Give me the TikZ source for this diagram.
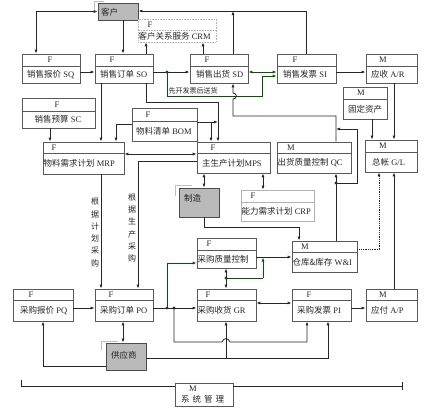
\documentclass[tikz,border=0pt]{standalone}
\usepackage{fontspec}
\setmainfont{Liberation Serif}
\newfontfamily\cjk{Noto Sans CJK SC}
\usetikzlibrary{arrows.meta,fit}
\newcommand{\mkbox}[6]{%
  \path (#2,#3) coordinate (#1-a) (#4,#5) coordinate (#1-b);
  \node[#6, fit=(#1-a)(#1-b), inner sep=0pt] (#1) {};}
\newcommand{\divline}[3][divst]{\draw[#1] (#2.west |- 0,#3) -- (#2.east |- 0,#3);}
\begin{document}
\begin{tikzpicture}[x=1pt,y=-1pt,
 boxst/.style={draw=black!65, line width=0.7pt, fill=white},
 lightbox/.style={draw=black!30, line width=0.6pt, densely dotted, fill=white},
 lightbox2/.style={draw=black!30, line width=0.6pt, fill=white},
 graybox/.style={draw=black!70, line width=0.8pt, fill=black!27},
 divst/.style={draw=black!65, line width=0.6pt},
 ldivst/.style={draw=black!30, line width=0.6pt, densely dotted},
 shadow/.style={draw=black!25, line width=0.6pt},
 lbl/.style={font=\fontsize{8.5}{10}\selectfont, inner sep=0pt, text=black!85},
 txt/.style={font=\fontsize{8.5}{10}\selectfont, inner sep=0pt, anchor=west, text=black!85},
 vtxt/.style={font=\fontsize{8}{12.3}\selectfont\cjk, inner sep=0pt, align=center, text=black!85},
 conn/.style={draw=black!85, line width=0.8pt},
 arr/.style={conn, -{Latex[length=4pt,width=3pt]}},
 dbl/.style={conn, {Latex[length=4pt,width=3pt]}-{Latex[length=4pt,width=3pt]}},
 gline/.style={draw=green!35!black, line width=0.8pt},
 garr/.style={gline, -{Latex[length=4pt,width=3pt]}},
 gdbl/.style={gline, {Latex[length=4pt,width=3pt]}-{Latex[length=4pt,width=3pt]}},
]
\useasboundingbox[fill=white] (0,0) rectangle (448,408);

% ---------- boxes ----------
\draw[shadow] (94.5,13) -- (94.5,0.8) -- (104,0.8);
\mkbox{kehu}{98}{3}{138}{20}{graybox}
\node[txt] (tkehu) at (101,12) {\cjk 客户};

\mkbox{crm}{138}{19}{216}{42}{lightbox}
\divline[ldivst]{crm}{30}
\node[lbl] (lcrm) at (150,24.5) {F};
\node[txt] (tcrm) at (138.5,36.5) {{\cjk 客户关系服务} CRM};

\mkbox{sq}{22}{54}{80}{83}{boxst}
\divline{sq}{66}
\node[lbl] (lsq) at (50,60) {F};
\node[txt] (tsq) at (27,74.5) {{\cjk 销售报价} SQ};

\mkbox{so}{95}{54}{153}{83}{boxst}
\divline{so}{66}
\node[lbl] (lso) at (112,60) {F};
\node[txt] (tso) at (100,74.5) {{\cjk 销售订单} SO};

\mkbox{sd}{190}{54}{248}{83}{boxst}
\divline{sd}{66}
\node[lbl] (lsd) at (207,60) {F};
\node[txt] (tsd) at (196,74.5) {{\cjk 销售出货} SD};

\mkbox{si}{277}{54}{336}{83}{boxst}
\divline{si}{66}
\node[lbl] (lsi) at (295,60) {F};
\node[txt] (tsi) at (283,74.5) {{\cjk 销售发票} SI};

\mkbox{ar}{366}{54}{417}{83}{boxst}
\divline{ar}{66}
\node[lbl] (lar) at (383,60) {M};
\node[txt] (tar) at (371,74.5) {{\cjk 应收} A/R};

\mkbox{gdzc}{343}{87}{387}{119}{boxst}
\divline{gdzc}{99}
\node[lbl] (lgdzc) at (361,93) {M};
\node[lbl] (tgdzc) at (365,109) {\cjk 固定资产};

\mkbox{sc}{22}{98}{95}{128}{boxst}
\divline{sc}{111}
\node[lbl] (lsc) at (57,104.5) {F};
\node[lbl] (tsc) at (58,119.5) {{\cjk 销售预算} SC};

\mkbox{bom}{132}{108}{197}{141}{boxst}
\divline{bom}{121}
\node[lbl] (lbom) at (148,114.5) {F};
\node[txt] (tbom) at (136,131) {{\cjk 物料清单} BOM};

\mkbox{mrp}{43}{142}{124}{174}{boxst}
\divline{mrp}{153}
\node[lbl] (lmrp) at (54,147.5) {F};
\node[txt] (tmrp) at (43.5,163.5) {{\cjk 物料需求计划} MRP};

\mkbox{mps}{197}{142}{270}{173}{boxst}
\divline{mps}{153}
\node[lbl] (lmps) at (213,147.5) {F};
\node[txt] (tmps) at (202,163) {{\cjk 主生产计划}MPS};

\mkbox{qc}{277}{142}{351}{173}{boxst}
\divline{qc}{153}
\node[lbl] (lqc) at (291,147.5) {M};
\node[txt] (tqc) at (277.5,163) {{\cjk 出货质量控制} QC};

\mkbox{gl}{365}{140}{417}{172}{boxst}
\divline{gl}{152}
\node[lbl] (lgl) at (383,146) {M};
\node[txt] (tgl) at (372,162) {{\cjk 总帐} G/L};

\draw[shadow] (175,196) -- (175,185) -- (192,185);
\mkbox{zhizao}{179}{188}{219}{217}{graybox}
\node[txt] (tzhizao) at (184,198) {\cjk 制造};

\mkbox{crp}{241}{190}{314}{221}{lightbox2}
\divline[draw=black!30, line width=0.6pt]{crp}{202}
\node[lbl] (lcrp) at (253,196) {F};
\node[txt] (tcrp) at (241.5,211.5) {{\cjk 能力需求计划} CRP};

\mkbox{cgzl}{197}{238}{256}{268}{boxst}
\divline{cgzl}{250}
\node[lbl] (lcgzl) at (209,244) {F};
\node[txt] (tcgzl) at (197.5,259) {\cjk 采购质量控制};

\mkbox{wi}{292}{241}{357}{272}{boxst}
\divline{wi}{252}
\node[lbl] (lwi) at (305,246.5) {M};
\node[txt] (twi) at (292.5,262) {{\cjk 仓库\&库存} W\&I};

\mkbox{pq}{13}{289}{73}{321}{boxst}
\divline{pq}{300}
\node[lbl] (lpq) at (31,294.5) {F};
\node[txt] (tpq) at (20,310.5) {{\cjk 采购报价} PQ};

\mkbox{po}{95}{289}{153}{321}{boxst}
\divline{po}{300}
\node[lbl] (lpo) at (111,294.5) {F};
\node[txt] (tpo) at (100,310.5) {{\cjk 采购订单} PO};

\mkbox{gr}{197}{289}{256}{321}{boxst}
\divline{gr}{300}
\node[lbl] (lgr) at (208,294.5) {F};
\node[txt] (tgr) at (197.5,310.5) {{\cjk 采购收货} GR};

\mkbox{pi}{292}{289}{351}{321}{boxst}
\divline{pi}{300}
\node[lbl] (lpi) at (309,294.5) {F};
\node[txt] (tpi) at (297,310.5) {{\cjk 采购发票} PI};

\mkbox{ap}{366}{289}{417}{321}{boxst}
\divline{ap}{300}
\node[lbl] (lap) at (383,294.5) {M};
\node[txt] (tap) at (371,310.5) {{\cjk 应付} A/P};

\draw[shadow] (101,350) -- (101,341) -- (118,341);
\mkbox{gys}{106}{343}{146}{370}{graybox}
\node[txt] (tgys) at (111,355) {\cjk 供应商};

\mkbox{xtgl}{175}{383}{233}{406}{boxst}
\node[lbl] (lxtgl) at (193,389) {M};
\node[txt] (txtgl) at (181,399) {\cjk 系\hspace{3pt}统\hspace{3pt}管\hspace{3pt}理};

% ---------- connectors ----------
\draw[dbl] (kehu.west) -- (kehu.west -| 36,0) -- (sq.north -| 36,0);
\draw[arr] (kehu.south -| 123,0) -- (so.north -| 123,0);
\draw[arr] (so.north -| 146,0) -- (crm.south -| 146,0);
\draw[arr] (si.north -| 306,0) -- (306,11) -- (kehu.east |- 0,11);
\draw[arr] (sd.north -| 233,0) -- (233,11);
\draw[arr] (sd.north -| 203,0) -- (crm.south -| 203,0);

\draw[arr] (sq.east |- 0,72) -- (so.west |- 0,72);
\draw[arr] (so.east |- 0,72) -- (sd.west |- 0,72);
\draw[garr] (167,72) -- (167,96) -- (262,96) -- (262,76) -- (si.west |- 0,76);
\fill[green!35!black] (167,72) circle (1.6);
\node[font=\fontsize{7}{8}\selectfont\cjk, inner sep=0pt, anchor=south west, text=black!85] (txianka) at (168.5,94.5) {先开发票后送货};
\draw[gdbl] (sd.east |- 0,72) -- (si.west |- 0,72);
\draw[arr] (si.east |- 0,72) -- (ar.west |- 0,72);

\draw[arr] (qc.north -| 336,0) -- (336,116) -- (233,116) -- (233,99)
   .. controls (237.5,99) and (237.5,93) .. (233,93) -- (sd.south -| 233,0);
\draw[arr] (336,183) -- (357,183) -- (357,129) -- (336,129);
\fill[black!85] (336,183) circle (1.6);
\draw[arr] (wi.north -| 336,0) -- (qc.south -| 336,0);

\draw[arr] (so.south -| 146,0) -- (146,102) -- (218,102) -- (mps.north -| 218,0);
\draw[arr] (bom.east |- 0,122) -- (211,122) -- (mps.north -| 211,0);
\draw[arr] (211,122) -- (218,122);
\draw[arr] (bom.west |- 0,124) -- (116,124) -- (mrp.north -| 116,0);
\draw[arr] (so.south -| 101,0) -- (mrp.north -| 101,0);
\draw[arr] (sc.south -| 50,0) -- (mrp.north -| 50,0);
\draw[dbl] (mrp.east |- 0,154) -- (mps.west |- 0,154);

\draw[arr] (mps.west |- 0,161) -- (138,161) -- (po.north -| 138,0);
\node[vtxt] (tgjsc) at (132,228) {根\\据\\生\\产\\采\\购};
\draw[arr] (mrp.south -| 101,0) -- (po.north -| 101,0);
\node[vtxt] (tgjjh) at (95,232.5) {根\\据\\计\\划\\采\\购};

\draw[dbl] (mps.south -| 204,0) -- (zhizao.north -| 204,0);
\draw[dbl] (mps.south -| 263,0) -- (crp.north -| 263,0);
\draw[arr] (zhizao.south -| 204,0) -- (204,227) -- (299,227) -- (wi.north -| 299,0);
\draw[arr] (cgzl.east |- 0,257) -- (wi.west |- 0,257);

\draw[arr] (pq.east |- 0,308) -- (po.west |- 0,308);
\draw[arr] (po.east |- 0,308) -- (gr.west |- 0,308);
\draw[garr] (167,308) -- (167,263) -- (cgzl.west |- 0,263);
\fill[green!35!black] (167,308) circle (1.6);
\fill[black!85] (174,308) circle (1.6);
\draw[dbl] (gr.north -| 226,0) -- (cgzl.south -| 226,0);
\draw[gline] (226,278) -- (263,278);
\draw[garr] (263,278) -- (263,257.5);
\fill[green!35!black] (226,278) circle (1.6);

\draw[arr] (174,308) -- (174,342) -- (222,342) .. controls (223.5,337.5) and (228.5,337.5) .. (230,342)
   -- (307,342) -- (pi.south -| 307,0);
\draw[arr] (gys.east |- 0,358) -- (328,358) -- (pi.south -| 328,0);
\draw[arr] (226,358) -- (gr.south -| 226,0);
\draw[dbl] (gr.east |- 0,303) -- (pi.west |- 0,303);
\draw[arr] (pi.east |- 0,308) -- (ap.west |- 0,308);
\draw[dbl] (po.south -| 123,0) -- (gys.north -| 123,0);
\draw[arr] (gys.west |- 0,366) -- (43,366) -- (pq.south -| 43,0);

\draw[arr] (ap.north -| 394,0) -- (gl.south -| 394,0);
\draw[arr, densely dotted] (wi.east |- 0,249) -- (379,249) -- (gl.south -| 379,0);
\draw[arr] (ar.south -| 394,0) -- (gl.north -| 394,0);
\draw[arr] (gdzc.south -| 372,0) -- (gl.north -| 372,0);

\draw[conn] (21,380) -- (21,386) -- (xtgl.west |- 0,386);
\draw[conn] (xtgl.east |- 0,386) -- (402,386);
\draw[conn] (402,382) -- (402,390);
\end{tikzpicture}
\end{document}
